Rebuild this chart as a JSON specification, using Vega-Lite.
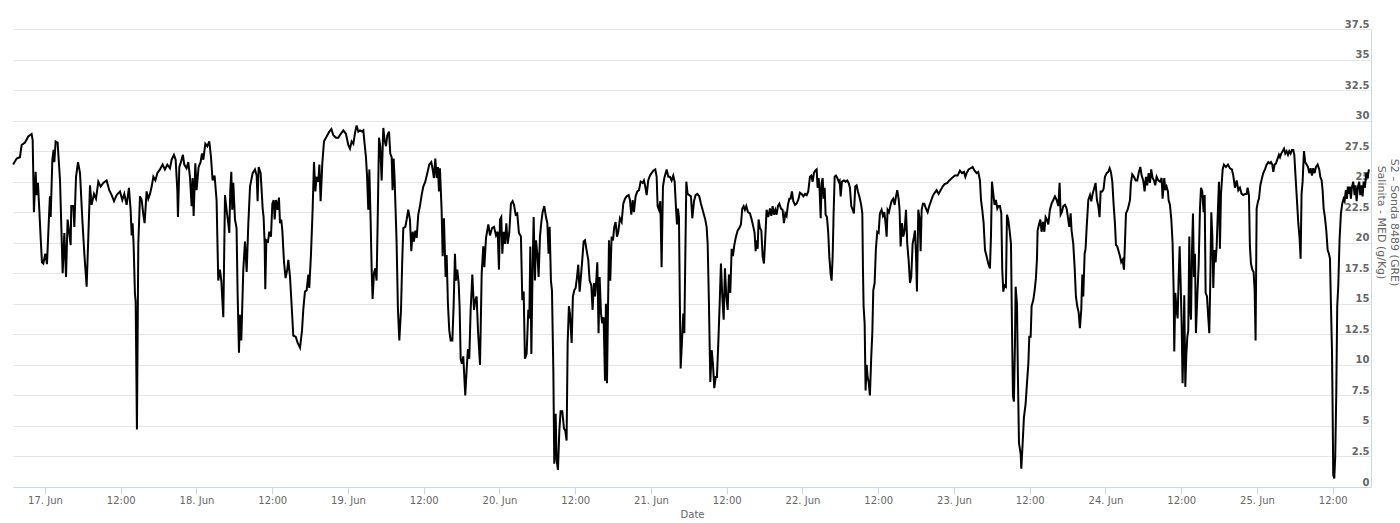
{
"$schema":"https://vega.github.io/schema/vega-lite/v6.json",
"width":1358,"height":458,
"autosize":{"type":"none"},
"padding":{"left":13,"top":29,"right":29,"bottom":36},
"background":"white",
"config":{"view":{"stroke":null},"axis":{"labelFont":"DejaVu Sans","titleFont":"DejaVu Sans"}},
"data":{"values":[
{"t":"2023-06-16T18:57Z","v":26.4},{"t":"2023-06-16T19:31Z","v":26.9},{"t":"2023-06-16T20:02Z","v":27.0},{"t":"2023-06-16T20:18Z","v":28.0},{"t":"2023-06-16T20:50Z","v":28.2},{"t":"2023-06-16T21:21Z","v":28.7},{"t":"2023-06-16T21:53Z","v":28.9},{"t":"2023-06-16T22:03Z","v":28.4},{"t":"2023-06-16T22:15Z","v":22.5},{"t":"2023-06-16T22:31Z","v":25.8},{"t":"2023-06-16T22:41Z","v":23.9},{"t":"2023-06-16T22:53Z","v":24.9},{"t":"2023-06-16T23:06Z","v":22.7},{"t":"2023-06-16T23:19Z","v":20.4},{"t":"2023-06-16T23:31Z","v":18.4},{"t":"2023-06-16T23:44Z","v":18.3},
{"t":"2023-06-17T00:03Z","v":19.1},{"t":"2023-06-17T00:19Z","v":18.25},{"t":"2023-06-17T00:38Z","v":22.1},{"t":"2023-06-17T00:47Z","v":23.8},{"t":"2023-06-17T00:54Z","v":22.1},{"t":"2023-06-17T01:10Z","v":26.8},{"t":"2023-06-17T01:22Z","v":27.6},{"t":"2023-06-17T01:29Z","v":26.6},{"t":"2023-06-17T01:41Z","v":28.3},{"t":"2023-06-17T02:00Z","v":28.2},{"t":"2023-06-17T02:23Z","v":25.1},{"t":"2023-06-17T02:38Z","v":20.5},{"t":"2023-06-17T02:48Z","v":17.5},{"t":"2023-06-17T03:04Z","v":20.8},{"t":"2023-06-17T03:20Z","v":17.2},{"t":"2023-06-17T03:35Z","v":21.9},{"t":"2023-06-17T03:48Z","v":21.0},{"t":"2023-06-17T04:04Z","v":19.8},{"t":"2023-06-17T04:10Z","v":23.0},{"t":"2023-06-17T04:29Z","v":23.0},{"t":"2023-06-17T04:39Z","v":21.3},{"t":"2023-06-17T04:55Z","v":25.4},{"t":"2023-06-17T05:14Z","v":26.6},{"t":"2023-06-17T05:33Z","v":25.7},{"t":"2023-06-17T05:55Z","v":21.9},{"t":"2023-06-17T06:14Z","v":19.1},{"t":"2023-06-17T06:23Z","v":18.0},{"t":"2023-06-17T06:36Z","v":16.4},{"t":"2023-06-17T06:52Z","v":20.5},{"t":"2023-06-17T07:08Z","v":24.7},{"t":"2023-06-17T07:23Z","v":23.1},{"t":"2023-06-17T07:46Z","v":24.0},{"t":"2023-06-17T08:05Z","v":23.6},{"t":"2023-06-17T08:27Z","v":25.0},{"t":"2023-06-17T08:49Z","v":24.6},{"t":"2023-06-17T09:14Z","v":24.9},{"t":"2023-06-17T09:46Z","v":25.1},{"t":"2023-06-17T10:11Z","v":24.3},{"t":"2023-06-17T10:34Z","v":23.9},{"t":"2023-06-17T10:56Z","v":23.4},{"t":"2023-06-17T11:21Z","v":23.9},{"t":"2023-06-17T11:53Z","v":24.2},{"t":"2023-06-17T12:15Z","v":23.5},{"t":"2023-06-17T12:34Z","v":24.0},{"t":"2023-06-17T12:56Z","v":23.1},{"t":"2023-06-17T13:18Z","v":24.5},{"t":"2023-06-17T13:34Z","v":22.7},{"t":"2023-06-17T13:44Z","v":20.6},{"t":"2023-06-17T13:53Z","v":21.6},{"t":"2023-06-17T14:03Z","v":19.7},{"t":"2023-06-17T14:15Z","v":15.8},{"t":"2023-06-17T14:22Z","v":15.2},{"t":"2023-06-17T14:34Z","v":4.7},{"t":"2023-06-17T14:47Z","v":19.9},{"t":"2023-06-17T15:03Z","v":23.8},{"t":"2023-06-17T15:19Z","v":23.5},{"t":"2023-06-17T15:35Z","v":22.3},{"t":"2023-06-17T15:47Z","v":21.6},{"t":"2023-06-17T16:06Z","v":24.2},{"t":"2023-06-17T16:22Z","v":23.6},{"t":"2023-06-17T16:38Z","v":24.0},{"t":"2023-06-17T16:54Z","v":24.6},{"t":"2023-06-17T17:10Z","v":25.4},{"t":"2023-06-17T17:29Z","v":25.1},{"t":"2023-06-17T17:48Z","v":25.7},{"t":"2023-06-17T18:13Z","v":26.0},{"t":"2023-06-17T18:38Z","v":26.4},{"t":"2023-06-17T19:00Z","v":26.0},{"t":"2023-06-17T19:23Z","v":26.4},{"t":"2023-06-17T19:48Z","v":26.1},{"t":"2023-06-17T20:04Z","v":26.8},{"t":"2023-06-17T20:26Z","v":27.2},{"t":"2023-06-17T20:42Z","v":26.8},{"t":"2023-06-17T20:58Z","v":24.3},{"t":"2023-06-17T21:04Z","v":22.1},{"t":"2023-06-17T21:17Z","v":26.2},{"t":"2023-06-17T21:32Z","v":26.6},{"t":"2023-06-17T21:51Z","v":27.2},{"t":"2023-06-17T22:04Z","v":26.4},{"t":"2023-06-17T22:26Z","v":26.1},{"t":"2023-06-17T22:42Z","v":26.6},{"t":"2023-06-17T22:58Z","v":25.4},{"t":"2023-06-17T23:14Z","v":23.0},{"t":"2023-06-17T23:23Z","v":25.3},{"t":"2023-06-17T23:33Z","v":22.2},{"t":"2023-06-17T23:49Z","v":26.5},
{"t":"2023-06-18T00:01Z","v":24.3},{"t":"2023-06-18T00:20Z","v":26.2},{"t":"2023-06-18T00:39Z","v":26.6},{"t":"2023-06-18T00:52Z","v":27.3},{"t":"2023-06-18T01:05Z","v":26.8},{"t":"2023-06-18T01:24Z","v":28.1},{"t":"2023-06-18T01:43Z","v":27.9},{"t":"2023-06-18T02:02Z","v":28.3},{"t":"2023-06-18T02:18Z","v":27.0},{"t":"2023-06-18T02:33Z","v":25.1},{"t":"2023-06-18T02:52Z","v":25.5},{"t":"2023-06-18T03:11Z","v":23.5},{"t":"2023-06-18T03:27Z","v":16.9},{"t":"2023-06-18T03:43Z","v":17.8},{"t":"2023-06-18T03:56Z","v":16.9},{"t":"2023-06-18T04:15Z","v":13.9},{"t":"2023-06-18T04:31Z","v":23.9},{"t":"2023-06-18T04:46Z","v":22.7},{"t":"2023-06-18T05:02Z","v":21.6},{"t":"2023-06-18T05:12Z","v":20.8},{"t":"2023-06-18T05:21Z","v":24.2},{"t":"2023-06-18T05:31Z","v":25.8},{"t":"2023-06-18T05:40Z","v":22.7},{"t":"2023-06-18T05:50Z","v":24.9},{"t":"2023-06-18T06:06Z","v":21.9},{"t":"2023-06-18T06:21Z","v":21.2},{"t":"2023-06-18T06:31Z","v":15.8},{"t":"2023-06-18T06:44Z","v":11.0},{"t":"2023-06-18T06:53Z","v":14.1},{"t":"2023-06-18T07:06Z","v":12.0},{"t":"2023-06-18T07:25Z","v":17.8},{"t":"2023-06-18T07:41Z","v":20.1},{"t":"2023-06-18T07:57Z","v":17.6},{"t":"2023-06-18T08:13Z","v":21.6},{"t":"2023-06-18T08:29Z","v":24.6},{"t":"2023-06-18T08:54Z","v":25.7},{"t":"2023-06-18T09:16Z","v":26.0},{"t":"2023-06-18T09:32Z","v":25.5},{"t":"2023-06-18T09:41Z","v":23.4},{"t":"2023-06-18T09:51Z","v":26.2},{"t":"2023-06-18T10:10Z","v":25.7},{"t":"2023-06-18T10:29Z","v":22.8},{"t":"2023-06-18T10:38Z","v":22.1},{"t":"2023-06-18T10:48Z","v":19.9},{"t":"2023-06-18T10:54Z","v":16.2},{"t":"2023-06-18T11:04Z","v":20.2},{"t":"2023-06-18T11:20Z","v":20.1},{"t":"2023-06-18T11:32Z","v":20.9},{"t":"2023-06-18T11:48Z","v":20.5},{"t":"2023-06-18T12:01Z","v":23.2},{"t":"2023-06-18T12:14Z","v":23.5},{"t":"2023-06-18T12:23Z","v":21.9},{"t":"2023-06-18T12:36Z","v":23.5},{"t":"2023-06-18T12:51Z","v":22.7},{"t":"2023-06-18T13:04Z","v":23.7},{"t":"2023-06-18T13:14Z","v":21.6},{"t":"2023-06-18T13:26Z","v":21.9},{"t":"2023-06-18T13:36Z","v":21.0},{"t":"2023-06-18T13:52Z","v":18.4},{"t":"2023-06-18T14:07Z","v":17.1},{"t":"2023-06-18T14:23Z","v":17.8},{"t":"2023-06-18T14:33Z","v":18.6},{"t":"2023-06-18T14:49Z","v":17.2},{"t":"2023-06-18T15:05Z","v":14.8},{"t":"2023-06-18T15:20Z","v":12.4},{"t":"2023-06-18T15:43Z","v":12.3},{"t":"2023-06-18T16:02Z","v":11.8},{"t":"2023-06-18T16:24Z","v":11.4},{"t":"2023-06-18T16:43Z","v":12.8},{"t":"2023-06-18T16:55Z","v":14.5},{"t":"2023-06-18T17:11Z","v":16.0},{"t":"2023-06-18T17:27Z","v":16.1},{"t":"2023-06-18T17:43Z","v":17.4},{"t":"2023-06-18T17:52Z","v":16.3},{"t":"2023-06-18T18:08Z","v":19.0},{"t":"2023-06-18T18:24Z","v":22.7},{"t":"2023-06-18T18:37Z","v":26.6},{"t":"2023-06-18T18:50Z","v":24.2},{"t":"2023-06-18T19:02Z","v":25.4},{"t":"2023-06-18T19:18Z","v":25.0},{"t":"2023-06-18T19:28Z","v":26.4},{"t":"2023-06-18T19:40Z","v":23.4},{"t":"2023-06-18T19:56Z","v":26.5},{"t":"2023-06-18T20:12Z","v":28.3},{"t":"2023-06-18T20:37Z","v":28.7},{"t":"2023-06-18T21:03Z","v":29.1},{"t":"2023-06-18T21:22Z","v":29.3},{"t":"2023-06-18T21:41Z","v":28.8},{"t":"2023-06-18T22:06Z","v":28.6},{"t":"2023-06-18T22:28Z","v":28.6},{"t":"2023-06-18T22:50Z","v":28.9},{"t":"2023-06-18T23:16Z","v":29.2},{"t":"2023-06-18T23:41Z","v":28.9},
{"t":"2023-06-19T00:03Z","v":28.0},{"t":"2023-06-19T00:19Z","v":27.7},{"t":"2023-06-19T00:35Z","v":28.3},{"t":"2023-06-19T00:51Z","v":28.1},{"t":"2023-06-19T01:07Z","v":29.0},{"t":"2023-06-19T01:22Z","v":29.6},{"t":"2023-06-19T01:38Z","v":29.1},{"t":"2023-06-19T01:54Z","v":29.2},{"t":"2023-06-19T02:13Z","v":29.1},{"t":"2023-06-19T02:26Z","v":29.2},{"t":"2023-06-19T02:38Z","v":28.1},{"t":"2023-06-19T02:51Z","v":27.0},{"t":"2023-06-19T03:01Z","v":25.5},{"t":"2023-06-19T03:13Z","v":22.7},{"t":"2023-06-19T03:23Z","v":26.0},{"t":"2023-06-19T03:35Z","v":21.9},{"t":"2023-06-19T03:45Z","v":17.9},{"t":"2023-06-19T03:54Z","v":15.4},{"t":"2023-06-19T04:07Z","v":17.5},{"t":"2023-06-19T04:20Z","v":17.9},{"t":"2023-06-19T04:32Z","v":16.9},{"t":"2023-06-19T04:42Z","v":21.6},{"t":"2023-06-19T04:55Z","v":28.6},{"t":"2023-06-19T05:07Z","v":27.9},{"t":"2023-06-19T05:20Z","v":25.1},{"t":"2023-06-19T05:36Z","v":29.4},{"t":"2023-06-19T05:48Z","v":28.4},{"t":"2023-06-19T06:01Z","v":27.9},{"t":"2023-06-19T06:14Z","v":28.8},{"t":"2023-06-19T06:30Z","v":29.1},{"t":"2023-06-19T06:42Z","v":27.3},{"t":"2023-06-19T06:55Z","v":27.0},{"t":"2023-06-19T07:04Z","v":24.3},{"t":"2023-06-19T07:14Z","v":26.9},{"t":"2023-06-19T07:23Z","v":25.3},{"t":"2023-06-19T07:42Z","v":20.1},{"t":"2023-06-19T07:55Z","v":14.5},{"t":"2023-06-19T08:08Z","v":12.0},{"t":"2023-06-19T08:24Z","v":14.5},{"t":"2023-06-19T08:36Z","v":18.6},{"t":"2023-06-19T08:46Z","v":21.2},{"t":"2023-06-19T09:05Z","v":21.3},{"t":"2023-06-19T09:18Z","v":21.9},{"t":"2023-06-19T09:33Z","v":22.7},{"t":"2023-06-19T09:49Z","v":21.9},{"t":"2023-06-19T10:02Z","v":19.3},{"t":"2023-06-19T10:15Z","v":20.9},{"t":"2023-06-19T10:27Z","v":20.1},{"t":"2023-06-19T10:40Z","v":21.0},{"t":"2023-06-19T10:53Z","v":20.4},{"t":"2023-06-19T11:08Z","v":22.3},{"t":"2023-06-19T11:24Z","v":23.0},{"t":"2023-06-19T11:40Z","v":23.9},{"t":"2023-06-19T11:56Z","v":24.6},{"t":"2023-06-19T12:15Z","v":25.0},{"t":"2023-06-19T12:34Z","v":25.7},{"t":"2023-06-19T12:53Z","v":26.4},{"t":"2023-06-19T13:12Z","v":26.6},{"t":"2023-06-19T13:25Z","v":26.0},{"t":"2023-06-19T13:37Z","v":25.3},{"t":"2023-06-19T13:50Z","v":26.9},{"t":"2023-06-19T14:03Z","v":25.3},{"t":"2023-06-19T14:15Z","v":26.2},{"t":"2023-06-19T14:25Z","v":24.2},{"t":"2023-06-19T14:34Z","v":26.1},{"t":"2023-06-19T14:50Z","v":22.7},{"t":"2023-06-19T15:00Z","v":18.9},{"t":"2023-06-19T15:12Z","v":22.0},{"t":"2023-06-19T15:28Z","v":17.2},{"t":"2023-06-19T15:38Z","v":19.0},{"t":"2023-06-19T15:50Z","v":15.0},{"t":"2023-06-19T16:03Z","v":12.8},{"t":"2023-06-19T16:16Z","v":12.0},{"t":"2023-06-19T16:32Z","v":12.0},{"t":"2023-06-19T16:44Z","v":14.8},{"t":"2023-06-19T16:57Z","v":19.1},{"t":"2023-06-19T17:06Z","v":16.9},{"t":"2023-06-19T17:19Z","v":17.8},{"t":"2023-06-19T17:32Z","v":16.7},{"t":"2023-06-19T17:41Z","v":14.8},{"t":"2023-06-19T17:51Z","v":10.5},{"t":"2023-06-19T18:03Z","v":10.1},{"t":"2023-06-19T18:16Z","v":10.7},{"t":"2023-06-19T18:26Z","v":9.0},{"t":"2023-06-19T18:35Z","v":7.5},{"t":"2023-06-19T18:48Z","v":9.6},{"t":"2023-06-19T19:00Z","v":11.3},{"t":"2023-06-19T19:13Z","v":10.5},{"t":"2023-06-19T19:26Z","v":14.5},{"t":"2023-06-19T19:42Z","v":17.4},{"t":"2023-06-19T19:58Z","v":14.5},{"t":"2023-06-19T20:10Z","v":15.3},{"t":"2023-06-19T20:23Z","v":15.6},{"t":"2023-06-19T20:36Z","v":12.8},{"t":"2023-06-19T20:55Z","v":10.0},{"t":"2023-06-19T21:11Z","v":17.5},{"t":"2023-06-19T21:26Z","v":19.7},{"t":"2023-06-19T21:36Z","v":18.0},{"t":"2023-06-19T21:52Z","v":20.4},{"t":"2023-06-19T22:14Z","v":21.5},{"t":"2023-06-19T22:30Z","v":20.6},{"t":"2023-06-19T22:49Z","v":21.2},{"t":"2023-06-19T23:08Z","v":21.3},{"t":"2023-06-19T23:27Z","v":20.6},{"t":"2023-06-19T23:43Z","v":20.9},{"t":"2023-06-19T23:55Z","v":17.8},
{"t":"2023-06-20T00:05Z","v":21.9},{"t":"2023-06-20T00:17Z","v":22.1},{"t":"2023-06-20T00:27Z","v":19.1},{"t":"2023-06-20T00:40Z","v":20.9},{"t":"2023-06-20T00:52Z","v":19.9},{"t":"2023-06-20T01:05Z","v":21.6},{"t":"2023-06-20T01:18Z","v":19.9},{"t":"2023-06-20T01:33Z","v":20.8},{"t":"2023-06-20T01:49Z","v":23.2},{"t":"2023-06-20T02:05Z","v":23.4},{"t":"2023-06-20T02:18Z","v":23.1},{"t":"2023-06-20T02:34Z","v":22.3},{"t":"2023-06-20T02:49Z","v":22.4},{"t":"2023-06-20T03:05Z","v":20.8},{"t":"2023-06-20T03:24Z","v":20.5},{"t":"2023-06-20T03:37Z","v":15.3},{"t":"2023-06-20T03:50Z","v":16.0},{"t":"2023-06-20T04:02Z","v":10.5},{"t":"2023-06-20T04:18Z","v":10.9},{"t":"2023-06-20T04:34Z","v":14.5},{"t":"2023-06-20T04:44Z","v":13.8},{"t":"2023-06-20T04:53Z","v":19.7},{"t":"2023-06-20T05:03Z","v":10.9},{"t":"2023-06-20T05:15Z","v":18.0},{"t":"2023-06-20T05:25Z","v":22.1},{"t":"2023-06-20T05:37Z","v":16.9},{"t":"2023-06-20T05:47Z","v":20.2},{"t":"2023-06-20T06:00Z","v":19.1},{"t":"2023-06-20T06:12Z","v":17.2},{"t":"2023-06-20T06:25Z","v":20.5},{"t":"2023-06-20T06:38Z","v":21.7},{"t":"2023-06-20T06:50Z","v":22.5},{"t":"2023-06-20T07:06Z","v":23.0},{"t":"2023-06-20T07:22Z","v":22.1},{"t":"2023-06-20T07:35Z","v":21.6},{"t":"2023-06-20T07:47Z","v":19.1},{"t":"2023-06-20T07:57Z","v":21.3},{"t":"2023-06-20T08:09Z","v":16.9},{"t":"2023-06-20T08:19Z","v":16.1},{"t":"2023-06-20T08:32Z","v":9.6},{"t":"2023-06-20T08:41Z","v":1.9},{"t":"2023-06-20T08:54Z","v":6.0},{"t":"2023-06-20T09:03Z","v":2.2},{"t":"2023-06-20T09:16Z","v":1.4},{"t":"2023-06-20T09:29Z","v":4.6},{"t":"2023-06-20T09:41Z","v":6.2},{"t":"2023-06-20T09:57Z","v":6.2},{"t":"2023-06-20T10:13Z","v":4.8},{"t":"2023-06-20T10:26Z","v":4.6},{"t":"2023-06-20T10:38Z","v":3.8},{"t":"2023-06-20T10:48Z","v":11.8},{"t":"2023-06-20T11:00Z","v":14.8},{"t":"2023-06-20T11:10Z","v":14.2},{"t":"2023-06-20T11:26Z","v":11.8},{"t":"2023-06-20T11:38Z","v":15.6},{"t":"2023-06-20T11:51Z","v":16.1},{"t":"2023-06-20T12:04Z","v":16.3},{"t":"2023-06-20T12:16Z","v":17.1},{"t":"2023-06-20T12:29Z","v":18.2},{"t":"2023-06-20T12:42Z","v":16.0},{"t":"2023-06-20T12:54Z","v":17.2},{"t":"2023-06-20T13:07Z","v":18.6},{"t":"2023-06-20T13:20Z","v":20.1},{"t":"2023-06-20T13:33Z","v":20.2},{"t":"2023-06-20T13:48Z","v":19.4},{"t":"2023-06-20T14:04Z","v":18.6},{"t":"2023-06-20T14:17Z","v":16.9},{"t":"2023-06-20T14:33Z","v":16.5},{"t":"2023-06-20T14:45Z","v":14.5},{"t":"2023-06-20T14:58Z","v":16.7},{"t":"2023-06-20T15:08Z","v":15.6},{"t":"2023-06-20T15:20Z","v":16.9},{"t":"2023-06-20T15:30Z","v":18.4},{"t":"2023-06-20T15:42Z","v":12.6},{"t":"2023-06-20T15:52Z","v":17.2},{"t":"2023-06-20T16:05Z","v":14.2},{"t":"2023-06-20T16:17Z","v":13.4},{"t":"2023-06-20T16:30Z","v":13.9},{"t":"2023-06-20T16:43Z","v":8.7},{"t":"2023-06-20T16:52Z","v":15.0},{"t":"2023-06-20T17:02Z","v":8.5},{"t":"2023-06-20T17:11Z","v":14.2},{"t":"2023-06-20T17:21Z","v":20.2},{"t":"2023-06-20T17:33Z","v":16.9},{"t":"2023-06-20T17:46Z","v":20.5},{"t":"2023-06-20T17:59Z","v":20.2},{"t":"2023-06-20T18:11Z","v":21.3},{"t":"2023-06-20T18:24Z","v":21.7},{"t":"2023-06-20T18:37Z","v":20.5},{"t":"2023-06-20T18:49Z","v":20.9},{"t":"2023-06-20T19:05Z","v":22.0},{"t":"2023-06-20T19:21Z","v":21.7},{"t":"2023-06-20T19:37Z","v":23.2},{"t":"2023-06-20T19:53Z","v":23.6},{"t":"2023-06-20T20:09Z","v":23.8},{"t":"2023-06-20T20:28Z","v":23.9},{"t":"2023-06-20T20:40Z","v":23.5},{"t":"2023-06-20T20:53Z","v":22.3},{"t":"2023-06-20T21:06Z","v":23.5},{"t":"2023-06-20T21:18Z","v":22.5},{"t":"2023-06-20T21:34Z","v":23.8},{"t":"2023-06-20T21:50Z","v":24.2},{"t":"2023-06-20T22:06Z","v":24.3},{"t":"2023-06-20T22:22Z","v":25.0},{"t":"2023-06-20T22:41Z","v":24.9},{"t":"2023-06-20T22:53Z","v":25.1},{"t":"2023-06-20T23:06Z","v":24.6},{"t":"2023-06-20T23:19Z","v":23.9},{"t":"2023-06-20T23:34Z","v":25.1},{"t":"2023-06-20T23:50Z","v":25.5},
{"t":"2023-06-21T00:06Z","v":25.7},{"t":"2023-06-21T00:22Z","v":25.9},{"t":"2023-06-21T00:41Z","v":26.0},{"t":"2023-06-21T00:54Z","v":25.4},{"t":"2023-06-21T01:03Z","v":23.0},{"t":"2023-06-21T01:16Z","v":22.7},{"t":"2023-06-21T01:29Z","v":23.4},{"t":"2023-06-21T01:41Z","v":18.0},{"t":"2023-06-21T01:54Z","v":24.6},{"t":"2023-06-21T02:07Z","v":25.3},{"t":"2023-06-21T02:29Z","v":26.0},{"t":"2023-06-21T02:45Z","v":25.4},{"t":"2023-06-21T03:00Z","v":25.4},{"t":"2023-06-21T03:16Z","v":25.1},{"t":"2023-06-21T03:32Z","v":25.5},{"t":"2023-06-21T03:45Z","v":25.0},{"t":"2023-06-21T03:57Z","v":23.0},{"t":"2023-06-21T04:07Z","v":21.5},{"t":"2023-06-21T04:16Z","v":22.8},{"t":"2023-06-21T04:26Z","v":22.1},{"t":"2023-06-21T04:35Z","v":14.8},{"t":"2023-06-21T04:42Z","v":9.7},{"t":"2023-06-21T04:54Z","v":11.8},{"t":"2023-06-21T05:07Z","v":14.2},{"t":"2023-06-21T05:17Z","v":12.6},{"t":"2023-06-21T05:26Z","v":18.6},{"t":"2023-06-21T05:36Z","v":25.0},{"t":"2023-06-21T05:48Z","v":24.0},{"t":"2023-06-21T06:04Z","v":23.9},{"t":"2023-06-21T06:20Z","v":23.8},{"t":"2023-06-21T06:33Z","v":22.0},{"t":"2023-06-21T06:49Z","v":23.4},{"t":"2023-06-21T07:04Z","v":23.9},{"t":"2023-06-21T07:20Z","v":24.0},{"t":"2023-06-21T07:39Z","v":23.8},{"t":"2023-06-21T07:55Z","v":23.2},{"t":"2023-06-21T08:17Z","v":22.5},{"t":"2023-06-21T08:36Z","v":21.9},{"t":"2023-06-21T08:49Z","v":21.3},{"t":"2023-06-21T08:59Z","v":19.9},{"t":"2023-06-21T09:11Z","v":15.0},{"t":"2023-06-21T09:24Z","v":8.6},{"t":"2023-06-21T09:37Z","v":11.2},{"t":"2023-06-21T09:49Z","v":10.1},{"t":"2023-06-21T10:02Z","v":8.1},{"t":"2023-06-21T10:15Z","v":9.0},{"t":"2023-06-21T10:27Z","v":9.0},{"t":"2023-06-21T10:40Z","v":11.8},{"t":"2023-06-21T10:53Z","v":15.0},{"t":"2023-06-21T11:05Z","v":18.3},{"t":"2023-06-21T11:18Z","v":15.6},{"t":"2023-06-21T11:31Z","v":13.7},{"t":"2023-06-21T11:43Z","v":17.9},{"t":"2023-06-21T11:56Z","v":15.6},{"t":"2023-06-21T12:09Z","v":14.5},{"t":"2023-06-21T12:21Z","v":17.4},{"t":"2023-06-21T12:34Z","v":15.9},{"t":"2023-06-21T12:47Z","v":19.5},{"t":"2023-06-21T12:59Z","v":18.9},{"t":"2023-06-21T13:12Z","v":19.8},{"t":"2023-06-21T13:28Z","v":20.5},{"t":"2023-06-21T13:44Z","v":21.0},{"t":"2023-06-21T14:00Z","v":21.2},{"t":"2023-06-21T14:15Z","v":21.5},{"t":"2023-06-21T14:28Z","v":22.8},{"t":"2023-06-21T14:41Z","v":23.0},{"t":"2023-06-21T14:53Z","v":22.7},{"t":"2023-06-21T15:06Z","v":23.0},{"t":"2023-06-21T15:22Z","v":22.5},{"t":"2023-06-21T15:41Z","v":22.4},{"t":"2023-06-21T15:57Z","v":21.9},{"t":"2023-06-21T16:13Z","v":21.3},{"t":"2023-06-21T16:25Z","v":20.8},{"t":"2023-06-21T16:35Z","v":19.3},{"t":"2023-06-21T16:44Z","v":20.2},{"t":"2023-06-21T16:54Z","v":19.5},{"t":"2023-06-21T17:03Z","v":21.9},{"t":"2023-06-21T17:16Z","v":21.2},{"t":"2023-06-21T17:29Z","v":21.0},{"t":"2023-06-21T17:41Z","v":18.9},{"t":"2023-06-21T17:54Z","v":18.3},{"t":"2023-06-21T18:07Z","v":20.5},{"t":"2023-06-21T18:19Z","v":22.7},{"t":"2023-06-21T18:35Z","v":22.1},{"t":"2023-06-21T18:51Z","v":22.8},{"t":"2023-06-21T19:04Z","v":22.2},{"t":"2023-06-21T19:16Z","v":23.0},{"t":"2023-06-21T19:29Z","v":22.3},{"t":"2023-06-21T19:42Z","v":22.7},{"t":"2023-06-21T19:54Z","v":22.3},{"t":"2023-06-21T20:07Z","v":23.0},{"t":"2023-06-21T20:20Z","v":23.2},{"t":"2023-06-21T20:36Z","v":22.8},{"t":"2023-06-21T20:51Z","v":22.7},{"t":"2023-06-21T21:04Z","v":21.6},{"t":"2023-06-21T21:17Z","v":22.4},{"t":"2023-06-21T21:29Z","v":22.2},{"t":"2023-06-21T21:42Z","v":23.1},{"t":"2023-06-21T21:55Z","v":23.6},{"t":"2023-06-21T22:07Z","v":23.6},{"t":"2023-06-21T22:20Z","v":24.2},{"t":"2023-06-21T22:33Z","v":23.4},{"t":"2023-06-21T22:49Z","v":23.1},{"t":"2023-06-21T23:04Z","v":23.2},{"t":"2023-06-21T23:20Z","v":23.5},{"t":"2023-06-21T23:36Z","v":24.1},{"t":"2023-06-21T23:52Z","v":24.0},
{"t":"2023-06-22T00:08Z","v":23.8},{"t":"2023-06-22T00:24Z","v":24.0},{"t":"2023-06-22T00:40Z","v":23.9},{"t":"2023-06-22T00:55Z","v":24.2},{"t":"2023-06-22T01:11Z","v":25.4},{"t":"2023-06-22T01:24Z","v":25.5},{"t":"2023-06-22T01:37Z","v":25.0},{"t":"2023-06-22T01:49Z","v":25.7},{"t":"2023-06-22T02:02Z","v":25.9},{"t":"2023-06-22T02:15Z","v":26.0},{"t":"2023-06-22T02:24Z","v":24.5},{"t":"2023-06-22T02:34Z","v":25.3},{"t":"2023-06-22T02:43Z","v":24.3},{"t":"2023-06-22T02:53Z","v":22.0},{"t":"2023-06-22T03:02Z","v":24.9},{"t":"2023-06-22T03:12Z","v":25.3},{"t":"2023-06-22T03:21Z","v":23.6},{"t":"2023-06-22T03:31Z","v":24.5},{"t":"2023-06-22T03:40Z","v":22.3},{"t":"2023-06-22T03:53Z","v":22.1},{"t":"2023-06-22T04:05Z","v":20.8},{"t":"2023-06-22T04:15Z","v":18.9},{"t":"2023-06-22T04:28Z","v":17.4},{"t":"2023-06-22T04:37Z","v":16.9},{"t":"2023-06-22T04:47Z","v":18.9},{"t":"2023-06-22T04:56Z","v":22.4},{"t":"2023-06-22T05:06Z","v":25.4},{"t":"2023-06-22T05:18Z","v":25.5},{"t":"2023-06-22T05:31Z","v":25.3},{"t":"2023-06-22T05:44Z","v":25.0},{"t":"2023-06-22T05:53Z","v":25.1},{"t":"2023-06-22T06:03Z","v":23.8},{"t":"2023-06-22T06:15Z","v":25.0},{"t":"2023-06-22T06:34Z","v":25.1},{"t":"2023-06-22T06:50Z","v":25.0},{"t":"2023-06-22T07:06Z","v":25.1},{"t":"2023-06-22T07:19Z","v":24.9},{"t":"2023-06-22T07:31Z","v":24.5},{"t":"2023-06-22T07:44Z","v":23.0},{"t":"2023-06-22T07:57Z","v":22.7},{"t":"2023-06-22T08:09Z","v":22.4},{"t":"2023-06-22T08:22Z","v":24.6},{"t":"2023-06-22T08:35Z","v":24.7},{"t":"2023-06-22T08:47Z","v":24.2},{"t":"2023-06-22T09:00Z","v":23.8},{"t":"2023-06-22T09:16Z","v":23.2},{"t":"2023-06-22T09:29Z","v":22.4},{"t":"2023-06-22T09:35Z","v":17.8},{"t":"2023-06-22T09:41Z","v":14.8},{"t":"2023-06-22T09:51Z","v":13.4},{"t":"2023-06-22T10:00Z","v":7.9},{"t":"2023-06-22T10:10Z","v":10.0},{"t":"2023-06-22T10:19Z","v":9.0},{"t":"2023-06-22T10:29Z","v":8.6},{"t":"2023-06-22T10:41Z","v":7.5},{"t":"2023-06-22T10:54Z","v":10.7},{"t":"2023-06-22T11:04Z","v":12.6},{"t":"2023-06-22T11:13Z","v":16.1},{"t":"2023-06-22T11:26Z","v":16.7},{"t":"2023-06-22T11:38Z","v":19.5},{"t":"2023-06-22T11:51Z","v":20.9},{"t":"2023-06-22T12:04Z","v":20.8},{"t":"2023-06-22T12:16Z","v":22.4},{"t":"2023-06-22T12:32Z","v":22.7},{"t":"2023-06-22T12:45Z","v":22.2},{"t":"2023-06-22T12:58Z","v":22.5},{"t":"2023-06-22T13:10Z","v":21.6},{"t":"2023-06-22T13:20Z","v":20.5},{"t":"2023-06-22T13:29Z","v":22.7},{"t":"2023-06-22T13:42Z","v":22.5},{"t":"2023-06-22T13:55Z","v":23.0},{"t":"2023-06-22T14:07Z","v":23.4},{"t":"2023-06-22T14:23Z","v":23.6},{"t":"2023-06-22T14:36Z","v":23.1},{"t":"2023-06-22T14:49Z","v":23.8},{"t":"2023-06-22T15:01Z","v":24.3},{"t":"2023-06-22T15:14Z","v":23.6},{"t":"2023-06-22T15:23Z","v":22.7},{"t":"2023-06-22T15:33Z","v":19.7},{"t":"2023-06-22T15:46Z","v":21.6},{"t":"2023-06-22T15:58Z","v":20.5},{"t":"2023-06-22T16:11Z","v":21.0},{"t":"2023-06-22T16:24Z","v":22.7},{"t":"2023-06-22T16:36Z","v":19.9},{"t":"2023-06-22T16:49Z","v":18.6},{"t":"2023-06-22T17:02Z","v":16.7},{"t":"2023-06-22T17:14Z","v":17.2},{"t":"2023-06-22T17:27Z","v":19.9},{"t":"2023-06-22T17:40Z","v":20.5},{"t":"2023-06-22T17:49Z","v":21.0},{"t":"2023-06-22T17:59Z","v":19.1},{"t":"2023-06-22T18:08Z","v":16.0},{"t":"2023-06-22T18:21Z","v":22.7},{"t":"2023-06-22T18:34Z","v":21.9},{"t":"2023-06-22T18:43Z","v":19.3},{"t":"2023-06-22T18:53Z","v":22.7},{"t":"2023-06-22T19:05Z","v":23.2},{"t":"2023-06-22T19:18Z","v":23.2},{"t":"2023-06-22T19:34Z","v":22.8},{"t":"2023-06-22T19:50Z","v":22.5},{"t":"2023-06-22T20:05Z","v":23.0},{"t":"2023-06-22T20:21Z","v":23.4},{"t":"2023-06-22T20:37Z","v":23.8},{"t":"2023-06-22T20:50Z","v":24.0},{"t":"2023-06-22T21:15Z","v":24.3},{"t":"2023-06-22T21:34Z","v":24.0},{"t":"2023-06-22T21:53Z","v":24.3},{"t":"2023-06-22T22:12Z","v":24.6},{"t":"2023-06-22T22:31Z","v":24.8},{"t":"2023-06-22T22:57Z","v":24.9},{"t":"2023-06-22T23:16Z","v":25.1},{"t":"2023-06-22T23:41Z","v":25.3},
{"t":"2023-06-23T00:09Z","v":25.5},{"t":"2023-06-23T00:35Z","v":25.5},{"t":"2023-06-23T00:57Z","v":25.9},{"t":"2023-06-23T01:16Z","v":25.7},{"t":"2023-06-23T01:35Z","v":25.8},{"t":"2023-06-23T01:48Z","v":25.4},{"t":"2023-06-23T02:00Z","v":25.7},{"t":"2023-06-23T02:19Z","v":26.0},{"t":"2023-06-23T02:38Z","v":26.1},{"t":"2023-06-23T02:57Z","v":26.2},{"t":"2023-06-23T03:16Z","v":25.9},{"t":"2023-06-23T03:35Z","v":25.7},{"t":"2023-06-23T03:51Z","v":25.8},{"t":"2023-06-23T04:07Z","v":25.1},{"t":"2023-06-23T04:17Z","v":23.5},{"t":"2023-06-23T04:29Z","v":22.7},{"t":"2023-06-23T04:42Z","v":21.6},{"t":"2023-06-23T04:55Z","v":19.4},{"t":"2023-06-23T05:10Z","v":18.9},{"t":"2023-06-23T05:26Z","v":18.3},{"t":"2023-06-23T05:42Z","v":17.9},{"t":"2023-06-23T05:52Z","v":20.6},{"t":"2023-06-23T06:01Z","v":25.0},{"t":"2023-06-23T06:14Z","v":24.0},{"t":"2023-06-23T06:26Z","v":23.1},{"t":"2023-06-23T06:39Z","v":23.5},{"t":"2023-06-23T06:52Z","v":22.8},{"t":"2023-06-23T07:04Z","v":23.0},{"t":"2023-06-23T07:17Z","v":23.0},{"t":"2023-06-23T07:30Z","v":22.4},{"t":"2023-06-23T07:39Z","v":17.8},{"t":"2023-06-23T07:49Z","v":16.0},{"t":"2023-06-23T08:01Z","v":16.5},{"t":"2023-06-23T08:14Z","v":16.4},{"t":"2023-06-23T08:24Z","v":22.3},{"t":"2023-06-23T08:36Z","v":21.9},{"t":"2023-06-23T08:49Z","v":21.0},{"t":"2023-06-23T09:02Z","v":19.9},{"t":"2023-06-23T09:11Z","v":13.3},{"t":"2023-06-23T09:21Z","v":7.4},{"t":"2023-06-23T09:30Z","v":7.0},{"t":"2023-06-23T09:40Z","v":11.8},{"t":"2023-06-23T09:46Z","v":16.4},{"t":"2023-06-23T09:59Z","v":15.0},{"t":"2023-06-23T10:08Z","v":9.0},{"t":"2023-06-23T10:18Z","v":3.6},{"t":"2023-06-23T10:34Z","v":2.7},{"t":"2023-06-23T10:40Z","v":1.5},{"t":"2023-06-23T10:53Z","v":3.6},{"t":"2023-06-23T11:05Z","v":5.7},{"t":"2023-06-23T11:21Z","v":6.8},{"t":"2023-06-23T11:34Z","v":8.5},{"t":"2023-06-23T11:47Z","v":10.1},{"t":"2023-06-23T11:56Z","v":12.3},{"t":"2023-06-23T12:09Z","v":12.3},{"t":"2023-06-23T12:18Z","v":14.8},{"t":"2023-06-23T12:34Z","v":15.3},{"t":"2023-06-23T12:47Z","v":16.1},{"t":"2023-06-23T12:59Z","v":17.1},{"t":"2023-06-23T13:09Z","v":18.7},{"t":"2023-06-23T13:15Z","v":21.0},{"t":"2023-06-23T13:28Z","v":21.5},{"t":"2023-06-23T13:41Z","v":21.9},{"t":"2023-06-23T13:53Z","v":20.9},{"t":"2023-06-23T14:06Z","v":21.7},{"t":"2023-06-23T14:19Z","v":20.9},{"t":"2023-06-23T14:31Z","v":22.1},{"t":"2023-06-23T14:44Z","v":21.9},{"t":"2023-06-23T14:57Z","v":21.5},{"t":"2023-06-23T15:12Z","v":22.7},{"t":"2023-06-23T15:28Z","v":23.2},{"t":"2023-06-23T15:44Z","v":23.5},{"t":"2023-06-23T16:00Z","v":23.8},{"t":"2023-06-23T16:16Z","v":23.5},{"t":"2023-06-23T16:32Z","v":23.0},{"t":"2023-06-23T16:44Z","v":24.9},{"t":"2023-06-23T16:54Z","v":22.3},{"t":"2023-06-23T17:06Z","v":22.5},{"t":"2023-06-23T17:19Z","v":23.0},{"t":"2023-06-23T17:35Z","v":23.1},{"t":"2023-06-23T17:51Z","v":22.8},{"t":"2023-06-23T18:03Z","v":22.1},{"t":"2023-06-23T18:16Z","v":21.3},{"t":"2023-06-23T18:29Z","v":22.4},{"t":"2023-06-23T18:38Z","v":21.0},{"t":"2023-06-23T18:54Z","v":19.9},{"t":"2023-06-23T19:07Z","v":18.0},{"t":"2023-06-23T19:19Z","v":15.6},{"t":"2023-06-23T19:32Z","v":14.8},{"t":"2023-06-23T19:45Z","v":14.3},{"t":"2023-06-23T19:57Z","v":13.0},{"t":"2023-06-23T20:10Z","v":14.5},{"t":"2023-06-23T20:20Z","v":17.4},{"t":"2023-06-23T20:29Z","v":15.6},{"t":"2023-06-23T20:42Z","v":19.1},{"t":"2023-06-23T20:51Z","v":19.5},{"t":"2023-06-23T21:01Z","v":21.2},{"t":"2023-06-23T21:17Z","v":23.5},{"t":"2023-06-23T21:33Z","v":23.9},{"t":"2023-06-23T21:45Z","v":23.4},{"t":"2023-06-23T21:58Z","v":24.0},{"t":"2023-06-23T22:14Z","v":24.5},{"t":"2023-06-23T22:26Z","v":24.9},{"t":"2023-06-23T22:39Z","v":23.5},{"t":"2023-06-23T22:52Z","v":23.0},{"t":"2023-06-23T23:04Z","v":22.1},{"t":"2023-06-23T23:14Z","v":24.2},{"t":"2023-06-23T23:30Z","v":24.2},{"t":"2023-06-23T23:42Z","v":24.4},{"t":"2023-06-23T23:55Z","v":25.4},
{"t":"2023-06-24T00:11Z","v":25.7},{"t":"2023-06-24T00:27Z","v":25.8},{"t":"2023-06-24T00:40Z","v":26.1},{"t":"2023-06-24T00:52Z","v":25.8},{"t":"2023-06-24T01:05Z","v":25.0},{"t":"2023-06-24T01:17Z","v":23.2},{"t":"2023-06-24T01:30Z","v":21.6},{"t":"2023-06-24T01:40Z","v":19.8},{"t":"2023-06-24T01:52Z","v":19.7},{"t":"2023-06-24T02:05Z","v":19.3},{"t":"2023-06-24T02:18Z","v":18.9},{"t":"2023-06-24T02:30Z","v":18.4},{"t":"2023-06-24T02:43Z","v":18.6},{"t":"2023-06-24T02:56Z","v":17.8},{"t":"2023-06-24T03:05Z","v":19.9},{"t":"2023-06-24T03:15Z","v":22.4},{"t":"2023-06-24T03:31Z","v":22.7},{"t":"2023-06-24T03:43Z","v":23.1},{"t":"2023-06-24T03:53Z","v":23.5},{"t":"2023-06-24T04:02Z","v":24.9},{"t":"2023-06-24T04:15Z","v":25.6},{"t":"2023-06-24T04:31Z","v":25.4},{"t":"2023-06-24T04:47Z","v":25.1},{"t":"2023-06-24T05:02Z","v":25.1},{"t":"2023-06-24T05:18Z","v":25.8},{"t":"2023-06-24T05:31Z","v":26.2},{"t":"2023-06-24T05:44Z","v":25.5},{"t":"2023-06-24T05:59Z","v":25.1},{"t":"2023-06-24T06:12Z","v":24.2},{"t":"2023-06-24T06:25Z","v":25.4},{"t":"2023-06-24T06:37Z","v":24.7},{"t":"2023-06-24T06:50Z","v":25.7},{"t":"2023-06-24T07:03Z","v":24.9},{"t":"2023-06-24T07:15Z","v":26.0},{"t":"2023-06-24T07:28Z","v":25.3},{"t":"2023-06-24T07:41Z","v":25.1},{"t":"2023-06-24T07:53Z","v":24.7},{"t":"2023-06-24T08:06Z","v":25.4},{"t":"2023-06-24T08:22Z","v":25.1},{"t":"2023-06-24T08:38Z","v":25.0},{"t":"2023-06-24T08:54Z","v":25.3},{"t":"2023-06-24T09:03Z","v":23.6},{"t":"2023-06-24T09:19Z","v":25.3},{"t":"2023-06-24T09:29Z","v":24.3},{"t":"2023-06-24T09:41Z","v":24.6},{"t":"2023-06-24T09:54Z","v":24.2},{"t":"2023-06-24T10:00Z","v":23.5},{"t":"2023-06-24T10:13Z","v":23.1},{"t":"2023-06-24T10:26Z","v":21.9},{"t":"2023-06-24T10:38Z","v":20.0},{"t":"2023-06-24T10:48Z","v":16.1},{"t":"2023-06-24T10:54Z","v":11.1},{"t":"2023-06-24T11:04Z","v":15.9},{"t":"2023-06-24T11:16Z","v":14.5},{"t":"2023-06-24T11:26Z","v":13.8},{"t":"2023-06-24T11:35Z","v":16.9},{"t":"2023-06-24T11:45Z","v":19.7},{"t":"2023-06-24T11:54Z","v":16.9},{"t":"2023-06-24T12:04Z","v":13.4},{"t":"2023-06-24T12:13Z","v":8.5},{"t":"2023-06-24T12:23Z","v":12.3},{"t":"2023-06-24T12:29Z","v":15.7},{"t":"2023-06-24T12:39Z","v":8.2},{"t":"2023-06-24T12:48Z","v":10.7},{"t":"2023-06-24T12:58Z","v":12.3},{"t":"2023-06-24T13:07Z","v":12.8},{"t":"2023-06-24T13:17Z","v":20.5},{"t":"2023-06-24T13:26Z","v":14.5},{"t":"2023-06-24T13:33Z","v":13.7},{"t":"2023-06-24T13:42Z","v":19.1},{"t":"2023-06-24T13:52Z","v":22.4},{"t":"2023-06-24T14:01Z","v":17.2},{"t":"2023-06-24T14:11Z","v":19.1},{"t":"2023-06-24T14:20Z","v":12.6},{"t":"2023-06-24T14:33Z","v":15.6},{"t":"2023-06-24T14:46Z","v":18.2},{"t":"2023-06-24T14:58Z","v":22.7},{"t":"2023-06-24T15:08Z","v":24.5},{"t":"2023-06-24T15:20Z","v":24.2},{"t":"2023-06-24T15:33Z","v":22.5},{"t":"2023-06-24T15:43Z","v":23.9},{"t":"2023-06-24T15:52Z","v":15.9},{"t":"2023-06-24T16:05Z","v":15.6},{"t":"2023-06-24T16:17Z","v":13.9},{"t":"2023-06-24T16:27Z","v":12.6},{"t":"2023-06-24T16:36Z","v":16.7},{"t":"2023-06-24T16:46Z","v":22.5},{"t":"2023-06-24T16:56Z","v":20.5},{"t":"2023-06-24T17:05Z","v":16.3},{"t":"2023-06-24T17:15Z","v":19.4},{"t":"2023-06-24T17:27Z","v":18.4},{"t":"2023-06-24T17:37Z","v":19.7},{"t":"2023-06-24T17:49Z","v":22.7},{"t":"2023-06-24T17:59Z","v":25.0},{"t":"2023-06-24T18:08Z","v":19.5},{"t":"2023-06-24T18:18Z","v":24.0},{"t":"2023-06-24T18:34Z","v":26.0},{"t":"2023-06-24T18:46Z","v":26.4},{"t":"2023-06-24T19:05Z","v":26.2},{"t":"2023-06-24T19:24Z","v":26.4},{"t":"2023-06-24T19:43Z","v":26.1},{"t":"2023-06-24T20:02Z","v":26.0},{"t":"2023-06-24T20:15Z","v":25.5},{"t":"2023-06-24T20:31Z","v":24.5},{"t":"2023-06-24T20:47Z","v":25.1},{"t":"2023-06-24T21:03Z","v":24.3},{"t":"2023-06-24T21:18Z","v":24.5},{"t":"2023-06-24T21:34Z","v":24.0},{"t":"2023-06-24T21:50Z","v":23.9},{"t":"2023-06-24T22:06Z","v":24.0},{"t":"2023-06-24T22:22Z","v":24.0},{"t":"2023-06-24T22:31Z","v":24.5},{"t":"2023-06-24T22:44Z","v":23.9},{"t":"2023-06-24T22:53Z","v":19.7},{"t":"2023-06-24T23:03Z","v":18.3},{"t":"2023-06-24T23:16Z","v":17.8},{"t":"2023-06-24T23:28Z","v":17.6},{"t":"2023-06-24T23:38Z","v":16.1},{"t":"2023-06-24T23:47Z","v":12.0},{"t":"2023-06-24T23:57Z","v":22.8},
{"t":"2023-06-25T00:10Z","v":23.4},{"t":"2023-06-25T00:19Z","v":23.6},{"t":"2023-06-25T00:32Z","v":24.7},{"t":"2023-06-25T00:48Z","v":25.3},{"t":"2023-06-25T01:00Z","v":25.7},{"t":"2023-06-25T01:16Z","v":26.0},{"t":"2023-06-25T01:32Z","v":26.4},{"t":"2023-06-25T01:48Z","v":26.6},{"t":"2023-06-25T02:04Z","v":26.5},{"t":"2023-06-25T02:13Z","v":26.6},{"t":"2023-06-25T02:26Z","v":26.4},{"t":"2023-06-25T02:35Z","v":25.8},{"t":"2023-06-25T02:48Z","v":26.4},{"t":"2023-06-25T03:01Z","v":26.5},{"t":"2023-06-25T03:13Z","v":26.8},{"t":"2023-06-25T03:29Z","v":27.2},{"t":"2023-06-25T03:39Z","v":27.0},{"t":"2023-06-25T03:51Z","v":27.3},{"t":"2023-06-25T04:04Z","v":27.5},{"t":"2023-06-25T04:17Z","v":27.7},{"t":"2023-06-25T04:29Z","v":27.3},{"t":"2023-06-25T04:42Z","v":27.5},{"t":"2023-06-25T04:55Z","v":27.2},{"t":"2023-06-25T05:07Z","v":27.5},{"t":"2023-06-25T05:20Z","v":27.3},{"t":"2023-06-25T05:33Z","v":27.6},{"t":"2023-06-25T05:45Z","v":27.6},{"t":"2023-06-25T05:55Z","v":27.2},{"t":"2023-06-25T06:07Z","v":25.4},{"t":"2023-06-25T06:20Z","v":23.5},{"t":"2023-06-25T06:33Z","v":21.6},{"t":"2023-06-25T06:45Z","v":20.4},{"t":"2023-06-25T06:55Z","v":18.7},{"t":"2023-06-25T07:04Z","v":24.0},{"t":"2023-06-25T07:14Z","v":25.0},{"t":"2023-06-25T07:27Z","v":27.5},{"t":"2023-06-25T07:39Z","v":26.6},{"t":"2023-06-25T07:52Z","v":26.4},{"t":"2023-06-25T08:05Z","v":26.2},{"t":"2023-06-25T08:17Z","v":25.7},{"t":"2023-06-25T08:30Z","v":26.1},{"t":"2023-06-25T08:43Z","v":25.5},{"t":"2023-06-25T08:55Z","v":26.1},{"t":"2023-06-25T09:08Z","v":25.7},{"t":"2023-06-25T09:21Z","v":26.2},{"t":"2023-06-25T09:37Z","v":26.4},{"t":"2023-06-25T09:52Z","v":26.0},{"t":"2023-06-25T10:02Z","v":25.4},{"t":"2023-06-25T10:15Z","v":25.1},{"t":"2023-06-25T10:24Z","v":24.3},{"t":"2023-06-25T10:34Z","v":22.8},{"t":"2023-06-25T10:46Z","v":22.1},{"t":"2023-06-25T10:59Z","v":21.0},{"t":"2023-06-25T11:12Z","v":19.4},{"t":"2023-06-25T11:24Z","v":19.1},{"t":"2023-06-25T11:34Z","v":18.7},{"t":"2023-06-25T11:43Z","v":15.0},{"t":"2023-06-25T11:53Z","v":11.2},{"t":"2023-06-25T11:59Z","v":6.6},{"t":"2023-06-25T12:05Z","v":1.0},{"t":"2023-06-25T12:15Z","v":0.7},{"t":"2023-06-25T12:24Z","v":2.5},{"t":"2023-06-25T12:34Z","v":7.7},{"t":"2023-06-25T12:43Z","v":14.8},{"t":"2023-06-25T12:53Z","v":16.5},{"t":"2023-06-25T13:05Z","v":20.2},{"t":"2023-06-25T13:18Z","v":22.4},{"t":"2023-06-25T13:31Z","v":23.2},{"t":"2023-06-25T13:43Z","v":23.6},{"t":"2023-06-25T13:53Z","v":23.4},{"t":"2023-06-25T14:05Z","v":24.3},{"t":"2023-06-25T14:15Z","v":23.6},{"t":"2023-06-25T14:24Z","v":24.6},{"t":"2023-06-25T14:34Z","v":24.0},{"t":"2023-06-25T14:43Z","v":24.6},{"t":"2023-06-25T14:53Z","v":23.6},{"t":"2023-06-25T15:02Z","v":24.5},{"t":"2023-06-25T15:15Z","v":25.0},{"t":"2023-06-25T15:28Z","v":23.9},{"t":"2023-06-25T15:37Z","v":24.7},{"t":"2023-06-25T15:47Z","v":23.4},{"t":"2023-06-25T16:00Z","v":24.6},{"t":"2023-06-25T16:12Z","v":25.0},{"t":"2023-06-25T16:22Z","v":23.9},{"t":"2023-06-25T16:31Z","v":24.7},{"t":"2023-06-25T16:44Z","v":23.8},{"t":"2023-06-25T16:54Z","v":25.0},{"t":"2023-06-25T17:06Z","v":24.5},{"t":"2023-06-25T17:19Z","v":25.7},{"t":"2023-06-25T17:32Z","v":25.3},{"t":"2023-06-25T17:44Z","v":26.0}
]},
"mark":{"type":"line","color":"#000000","strokeWidth":2,"interpolate":"linear"},
"encoding":{
"x":{"field":"t","type":"temporal",
 "scale":{"type":"utc","domain":[1686941760000,1687716240000]},
 "axis":{"title":"Date","values":[1686960000000,1687003200000,1687046400000,1687089600000,1687132800000,1687176000000,1687219200000,1687262400000,1687305600000,1687348800000,1687392000000,1687435200000,1687478400000,1687521600000,1687564800000,1687608000000,1687651200000,1687694400000],"labelExpr":"utchours(datum.value)==0 ? utcFormat(datum.value,'%-d. %b') : utcFormat(datum.value,'%H:%M')","grid":false,"domainColor":"#ccd6eb","tickColor":"#ccd6eb","tickSize":7,"labelPadding":1,"labelBaseline":"top","labelFontSize":10,"labelColor":"#666666","labelFlush":false,"labelOverlap":false,"titleFontSize":10,"titleColor":"#666666","titleFontWeight":"normal","titlePadding":4}},
"y":{"field":"v","type":"quantitative",
 "scale":{"domain":[0,37.5],"nice":false,"zero":false},
 "axis":{"orient":"right","title":["S2 – Sonda 8489 (GRE)","Salinita - MED (g/Kg)"],"values":[0,2.5,5,7.5,10,12.5,15,17.5,20,22.5,25,27.5,30,32.5,35,37.5],"format":".1~f","grid":true,"gridColor":"#e6e6e6","ticks":false,"domain":true,"domainColor":"#ccd6eb","labelAlign":"right","labelPadding":-2,"labelBaseline":"alphabetic","labelOffset":-2,"labelFontSize":10,"labelFontWeight":"bold","labelColor":"#666666","labelFlush":false,"labelOverlap":false,"titleAngle":90,"titleX":28,"titleY":193,"titleAlign":"center","titleBaseline":"top","titleFontSize":11,"titleFontWeight":"normal","titleColor":"#666666"}}
}
}
